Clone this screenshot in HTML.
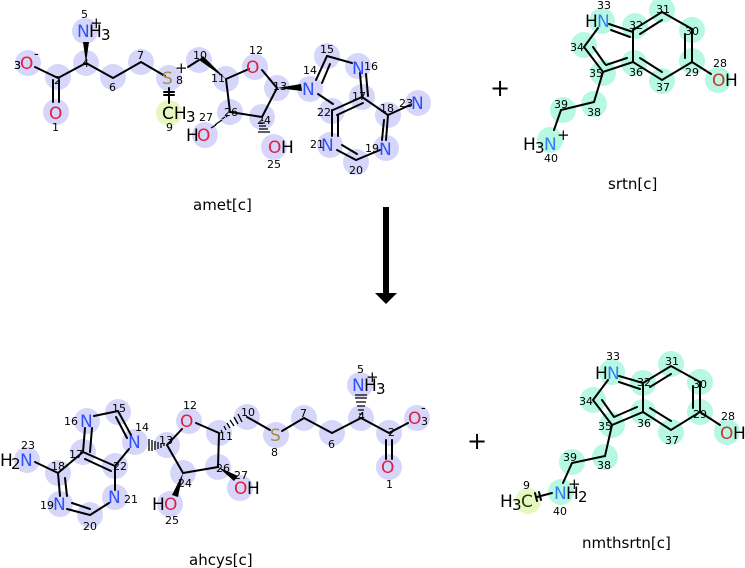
<!DOCTYPE html>
<html><head><meta charset="utf-8"><style>
html,body{margin:0;padding:0;background:#fff;}
svg{display:block;font-family:"DejaVu Sans","Liberation Sans",sans-serif;}
.b{stroke:#000;stroke-width:2;fill:none;stroke-linecap:round}
.n{font-size:11px;fill:#000}
.a{font-size:17px}
.hl{fill:#d6d6fa}
.hm{fill:#b6f8e2}
.hg{fill:#e6f8c0}
</style></head><body>
<svg width="745" height="568" viewBox="0 0 745 568" xmlns="http://www.w3.org/2000/svg">
<!-- ===== amet highlights ===== -->
<g class="hl">
<circle cx="28" cy="63" r="13"/><circle cx="58" cy="77" r="13"/><circle cx="56" cy="112" r="13"/>
<circle cx="86" cy="63" r="13"/><circle cx="85" cy="31" r="13"/><circle cx="113" cy="77" r="13"/>
<circle cx="141" cy="62" r="13"/><circle cx="169" cy="78" r="13"/><circle cx="199" cy="60" r="13"/>
<circle cx="226" cy="79" r="13"/><circle cx="255" cy="67" r="13"/><circle cx="277" cy="88" r="13"/>
<circle cx="230" cy="112" r="13"/><circle cx="262" cy="117" r="13"/><circle cx="205" cy="135" r="13"/>
<circle cx="274" cy="147" r="13"/><circle cx="310" cy="89" r="13"/><circle cx="327" cy="56" r="13"/>
<circle cx="358" cy="66" r="13"/><circle cx="362" cy="97" r="13"/><circle cx="332" cy="111" r="13"/>
<circle cx="388" cy="115" r="13"/><circle cx="418" cy="103" r="13"/><circle cx="386" cy="148" r="13"/>
<circle cx="356" cy="162" r="13"/><circle cx="330" cy="145" r="13"/>
</g>
<circle class="hg" cx="169" cy="113" r="13"/>
<!-- amet bonds -->
<g class="b">
<path d="M35 67 L58 78 L86 63 L113 78 L141 62 L165 76"/>
<path d="M53 80 V102 M59 80 V102"/>
<path d="M169 88 V103 M164 92 H174 M164 95 H174"/>
<path d="M188 67 L199 60"/>
<path d="M226 79 L249 69 M262 70 L277 88 L262 117 L230 112 L226 79"/>
<path d="M316 80 L327 56 L352 63 M322 83 L330 64"/>
<path d="M360 73 L362 97 M366 74 L368 96"/>
<path d="M318 94 L333 104 M333 110 L362 97 M337 115 L363 103"/>
<path d="M332 110 V136 M338 115 V136"/>
<path d="M337 150 L356 160 L380 150 M342 145 L357 154"/>
<path d="M386 140 L388 115 L362 97 M382 140 L384 120"/>
<path d="M388 115 L410 105"/>
</g>
<g fill="#000">
<polygon points="86,63 83,42 89,42"/>
<polygon points="226,79 199,60 203,56"/>
<polygon points="277,88 301,84 302,91"/>
</g>
<g stroke="#000" stroke-width="1.3">
<path d="M228,115 L226,117 M225,117 L222,119 M222,120 L219,122 M219,122 L215,125 M216,125 L211,128"/>
<path d="M262,120 L263,121 M260,123 L265,123 M259,126 L266,126 M259,129 L268,129 M258,132 L270,132"/>
</g>
<g class="a">
<text x="20" y="69" fill="#e0203c">O</text><text x="14" y="69" class="n" style="font-size:11px">3</text><text x="34" y="58" font-size="13">-</text>
<text x="49" y="119" fill="#e0203c">O</text>
<text x="77" y="37" fill="#3050f8">N</text><text x="89" y="37">H</text><text x="101" y="40" font-size="15">3</text><text x="90" y="28" font-size="15">+</text>
<text x="162" y="84" fill="#a09040">S</text><text x="175" y="73" font-size="15">+</text>
<text x="162" y="119" fill="#000">CH</text><text x="186" y="122" font-size="15">3</text>
<text x="246" y="73" fill="#e0203c">O</text>
<text x="186" y="141" fill="#000">H</text><text x="197" y="141" fill="#e0203c">O</text>
<text x="268" y="153" fill="#e0203c">O</text><text x="281" y="153">H</text>
<text x="302" y="95" fill="#3050f8">N</text>
<text x="352" y="74" fill="#3050f8">N</text>
<text x="321" y="151" fill="#3050f8">N</text>
<text x="379" y="155" fill="#3050f8">N</text>
<text x="411" y="109" fill="#3050f8">N</text>
</g>
<g class="n">
<text x="14" y="69">3</text><text x="54" y="84">2</text><text x="52" y="131">1</text><text x="82" y="67">4</text>
<text x="81" y="18">5</text><text x="109" y="91">6</text><text x="137" y="59">7</text><text x="176" y="84">8</text>
<text x="166" y="131">9</text><text x="193" y="59">10</text><text x="211" y="82">11</text><text x="249" y="54">12</text>
<text x="273" y="90">13</text><text x="303" y="74">14</text><text x="320" y="53">15</text><text x="364" y="70">16</text>
<text x="352" y="100">17</text><text x="380" y="112">18</text><text x="399" y="107">23</text><text x="365" y="152">19</text>
<text x="349" y="174">20</text><text x="310" y="148">21</text><text x="317" y="116">22</text><text x="257" y="124">24</text>
<text x="267" y="168">25</text><text x="224" y="116">26</text><text x="199" y="121">27</text>
</g>
<text x="193" y="210" font-size="15">amet[c]</text>

<!-- plus signs and arrow -->
<text x="490" y="96" font-size="24">+</text>
<text x="467" y="449" font-size="24">+</text>
<rect x="383" y="207" width="6" height="87" fill="#000"/>
<polygon points="375,293 397,293 386,304" fill="#000"/>

<!-- ===== srtn ===== -->
<g class="hm">
<circle cx="602" cy="21" r="13"/><circle cx="635" cy="26" r="13"/><circle cx="662" cy="10" r="13"/>
<circle cx="692" cy="30" r="13"/><circle cx="692" cy="61" r="13"/><circle cx="718" cy="80" r="13"/>
<circle cx="662" cy="81" r="13"/><circle cx="634" cy="63" r="13"/><circle cx="603" cy="73" r="13"/>
<circle cx="584" cy="45" r="13"/><circle cx="594" cy="104" r="13"/><circle cx="563" cy="110" r="13"/>
<circle cx="550" cy="140" r="13"/>
</g>
<g class="b">
<path d="M609 24 L633 32 M611 30 L630 37"/>
<path d="M598 28 L584 47 L603 72 L633 62 L633 30 L662 12 L692 29 L692 62 L662 80 L633 62"/>
<path d="M593 47 L605 64 M627 58 L606 65"/>
<path d="M640 34 L662 20 M685 34 V58 M640 58 L662 72"/>
<path d="M692 62 L711 74"/>
<path d="M603 72 L594 102 L561 110 L554 130"/>
</g>
<g class="a">
<text x="585" y="27">H</text><text x="597" y="27" fill="#3080f0">N</text>
<text x="712" y="86" fill="#d03030">O</text><text x="725" y="86">H</text>
<text x="523" y="150">H</text><text x="535" y="153" font-size="15">3</text><text x="544" y="150" fill="#3080f0">N</text><text x="557" y="140" font-size="15">+</text>
</g>
<g class="n" fill="#222">
<text x="597" y="9">33</text><text x="629" y="29">32</text><text x="656" y="13">31</text><text x="685" y="35">30</text>
<text x="685" y="76">29</text><text x="713" y="67">28</text><text x="656" y="91">37</text><text x="629" y="76">36</text>
<text x="589" y="77">35</text><text x="570" y="51">34</text><text x="587" y="116">38</text><text x="554" y="108">39</text>
<text x="544" y="162">40</text>
</g>
<text x="608" y="189" font-size="15">srtn[c]</text>

<!-- ===== ahcys ===== -->
<g class="hl">
<circle cx="27" cy="460" r="13"/><circle cx="58" cy="473" r="13"/><circle cx="83" cy="452" r="13"/>
<circle cx="87" cy="421" r="13"/><circle cx="118" cy="412" r="13"/><circle cx="135" cy="442" r="13"/>
<circle cx="115" cy="466" r="13"/><circle cx="115" cy="497" r="13"/><circle cx="90" cy="515" r="13"/>
<circle cx="60" cy="504" r="13"/><circle cx="167" cy="445" r="13"/><circle cx="189" cy="421" r="13"/>
<circle cx="219" cy="433" r="13"/><circle cx="247" cy="417" r="13"/><circle cx="276" cy="435" r="13"/>
<circle cx="304" cy="418" r="13"/><circle cx="332" cy="433" r="13"/><circle cx="361" cy="418" r="13"/>
<circle cx="360" cy="385" r="13"/><circle cx="389" cy="433" r="13"/><circle cx="417" cy="418" r="13"/>
<circle cx="389" cy="467" r="13"/><circle cx="183" cy="473" r="13"/><circle cx="170" cy="504" r="13"/>
<circle cx="218" cy="467" r="13"/><circle cx="240" cy="488" r="13"/>
</g>
<g class="b">
<path d="M35 462 L58 473 L83 452 L85 428 M90 452 L92 428"/>
<path d="M94 416 L118 411 L131 435 M116 417 L127 438"/>
<path d="M83 452 L115 466 M85 459 L111 471 M129 449 L115 466"/>
<path d="M58 473 L60 496 M65 478 L67 496"/>
<path d="M67 509 L90 515 L109 503 M72 503 L90 509"/>
<path d="M115 466 L115 490"/>
<path d="M182 429 L167 445 L183 473 L218 467 L219 433 L196 423"/>
<path d="M247 417 L270 430 M282 431 L304 418 L332 433 L361 418 L389 433 L408 423"/>
<path d="M386 440 V459 M392 440 V459"/>
</g>
<g fill="#000">
<polygon points="183,473 172,495 178,497"/>
<polygon points="218,467 234,481 238,476"/>
</g>
<g stroke="#000" stroke-width="1.3">
<path d="M164,444 L164,446 M161,443 L161,448 M158,442 L158,449 M155,441 L155,450 M152,440 L152,451 M149,439 L149,451"/>
<path d="M222,432 L221,430 M226,430 L224,426 M230,428 L227,423 M234,426 L230,420 M238,424 L234,417 M242,422 L238,414"/>
<path d="M359,414 H363 M358,410 H364 M357,406 H365 M356,402 H366 M355,398 H367 M355,395 H367"/>
</g>
<g class="a">
<text x="0" y="466">H</text><text x="11" y="469" font-size="15">2</text><text x="20" y="466" fill="#3050f8">N</text>
<text x="80" y="427" fill="#3050f8">N</text>
<text x="128" y="448" fill="#3050f8">N</text>
<text x="108" y="503" fill="#3050f8">N</text>
<text x="53" y="510" fill="#3050f8">N</text>
<text x="180" y="427" fill="#e0203c">O</text>
<text x="270" y="441" fill="#a09040">S</text>
<text x="352" y="391" fill="#3050f8">N</text><text x="364" y="391">H</text><text x="376" y="394" font-size="15">3</text><text x="366" y="382" font-size="15">+</text>
<text x="408" y="424" fill="#e0203c">O</text><text x="421" y="412" font-size="13">-</text>
<text x="381" y="473" fill="#e0203c">O</text>
<text x="152" y="510">H</text><text x="164" y="510" fill="#e0203c">O</text>
<text x="234" y="494" fill="#e0203c">O</text><text x="247" y="494">H</text>
</g>
<g class="n">
<text x="21" y="449">23</text><text x="51" y="470">18</text><text x="69" y="458">17</text><text x="64" y="425">16</text>
<text x="112" y="412">15</text><text x="135" y="431">14</text><text x="113" y="470">22</text><text x="124" y="503">21</text>
<text x="83" y="530">20</text><text x="40" y="509">19</text><text x="159" y="444">13</text><text x="183" y="409">12</text>
<text x="219" y="440">11</text><text x="241" y="416">10</text><text x="271" y="456">8</text><text x="300" y="417">7</text>
<text x="328" y="448">6</text><text x="358" y="420">4</text><text x="357" y="373">5</text><text x="388" y="436">2</text>
<text x="421" y="425">3</text><text x="386" y="488">1</text><text x="178" y="487">24</text><text x="165" y="524">25</text>
<text x="216" y="472">26</text><text x="234" y="479">27</text>
</g>
<text x="189" y="565" font-size="15">ahcys[c]</text>

<!-- ===== nmthsrtn ===== -->
<g class="hm">
<circle cx="612" cy="372" r="13"/><circle cx="643" cy="383" r="13"/><circle cx="671" cy="364" r="13"/>
<circle cx="700" cy="382" r="13"/><circle cx="700" cy="412" r="13"/><circle cx="727" cy="432" r="13"/>
<circle cx="671" cy="432" r="13"/><circle cx="643" cy="412" r="13"/><circle cx="612" cy="425" r="13"/>
<circle cx="593" cy="400" r="13"/><circle cx="605" cy="457" r="13"/><circle cx="572" cy="462" r="13"/>
<circle cx="561" cy="492" r="13"/>
</g>
<circle class="hg" cx="528" cy="501" r="13"/>
<g class="b">
<path d="M619 376 L643 383 M619 382 L640 389"/>
<path d="M608 380 L593 400 L612 425 L643 412 L643 383 L671 366 L700 382 L700 412 L671 430 L643 412"/>
<path d="M602 400 L614 417 M637 407 L614 417"/>
<path d="M650 387 L671 374 M693 386 V408 M650 408 L671 421"/>
<path d="M700 412 L720 425"/>
<path d="M612 425 L605 456 L572 463 L563 483"/>
<path d="M537 497 L552 493 M535 493 L537 501 M539 492 L541 500"/>
</g>
<g class="a">
<text x="595" y="379">H</text><text x="607" y="379" fill="#3080f0">N</text>
<text x="720" y="439" fill="#d03030">O</text><text x="733" y="439">H</text>
<text x="500" y="507">H</text><text x="512" y="510" font-size="15">3</text><text x="521" y="507" fill="#1a3a10">C</text>
<text x="554" y="499" fill="#3080f0">N</text><text x="566" y="499">H</text><text x="578" y="502" font-size="15">2</text><text x="568" y="489" font-size="15">+</text>
</g>
<g class="n" fill="#222">
<text x="606" y="360">33</text><text x="637" y="386">32</text><text x="665" y="365">31</text><text x="693" y="388">30</text>
<text x="693" y="418">29</text><text x="721" y="420">28</text><text x="665" y="444">37</text><text x="637" y="427">36</text>
<text x="598" y="430">35</text><text x="579" y="405">34</text><text x="597" y="469">38</text><text x="563" y="461">39</text>
<text x="553" y="515">40</text><text x="523" y="489">9</text>
</g>
<text x="582" y="548" font-size="15">nmthsrtn[c]</text>
</svg>
</body></html>
